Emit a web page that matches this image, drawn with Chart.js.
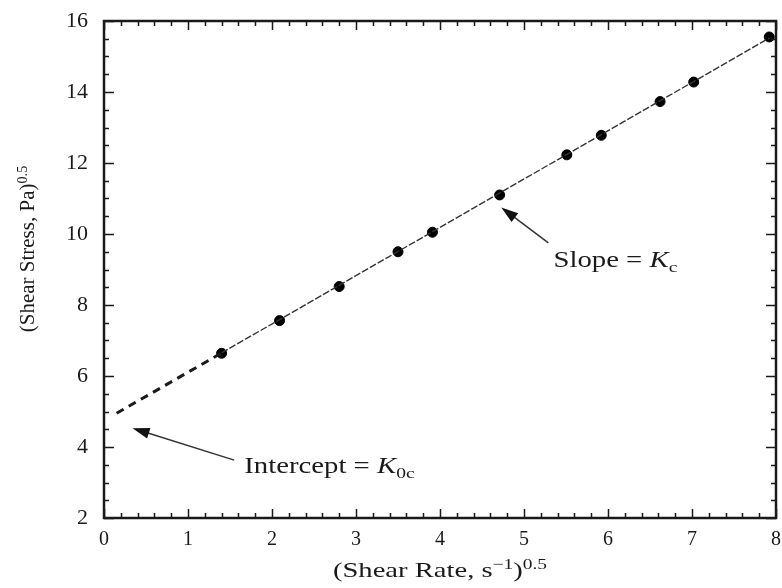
<!DOCTYPE html>
<html>
<head>
<meta charset="utf-8">
<script src="https://cdn.jsdelivr.net/npm/chart.js@4.4.1/dist/chart.umd.min.js"></script>
<style>
    html, body { margin: 0; padding: 0; background: #fff; }
    #wrap { width: 782px; height: 588px; }
</style>
</head>
<body>
<div id="wrap"><canvas id="chart"></canvas></div>
<script>
// measured points: (shear rate)^0.5 vs (shear stress)^0.5
const rateRoot = [1.40, 2.09, 2.80, 3.50, 3.91, 4.71, 5.51, 5.92, 6.62, 7.02, 7.92];
const stressRoot = [6.64, 7.56, 8.52, 9.50, 10.05, 11.10, 12.23, 12.78, 13.73, 14.28, 15.55];

// fitted line through the data, and its extrapolation back to the axis
const fitX = [1.40, 7.92];
const fitY = [6.65, 15.52];
const extraX = [0.15, 1.40];
const extraY = [4.95, 6.65];

// axis ticks
const xTicks = [0, 1, 2, 3, 4, 5, 6, 7, 8];
const yTicks = [2, 4, 6, 8, 10, 12, 14, 16];

const SERIF = '"Liberation Serif", "DejaVu Serif", serif';
const INK = '#1a1a1a';
const STRETCH = 1.25; // the source figure is a bit wide for its height

function toPoints(xs, ys) {
    return xs.map((x, i) => ({ x: x, y: ys[i] }));
}

// draw a run of text pieces (normal / italic / sub / sup), stretched horizontally by sx
function richText(ctx, runs, x, y, size, sx, align) {
    ctx.save();
    ctx.textBaseline = 'alphabetic';
    ctx.textAlign = 'left';
    let total = 0;
    runs.forEach(r => {
        const fs = r.small ? size * 0.68 : size;
        ctx.font = (r.italic ? 'italic ' : '') + fs + 'px ' + SERIF;
        r.w = ctx.measureText(r.t).width;
        r.fs = fs;
        total += r.w;
    });
    ctx.translate(x, y);
    ctx.scale(sx, 1);
    let cx = align === 'center' ? -total / 2 : 0;
    runs.forEach(r => {
        ctx.font = (r.italic ? 'italic ' : '') + r.fs + 'px ' + SERIF;
        ctx.fillText(r.t, cx, r.dy || 0);
        cx += r.w;
    });
    ctx.restore();
}

function arrow(ctx, x0, y0, x1, y1) {
    const ang = Math.atan2(y1 - y0, x1 - x0);
    const len = 17, half = 5.5;
    ctx.save();
    ctx.strokeStyle = '#333';
    ctx.fillStyle = '#111';
    ctx.lineWidth = 1.5;
    ctx.beginPath();
    ctx.moveTo(x0, y0);
    ctx.lineTo(x1 - Math.cos(ang) * len * 0.8, y1 - Math.sin(ang) * len * 0.8);
    ctx.stroke();
    ctx.beginPath();
    ctx.moveTo(x1, y1);
    ctx.lineTo(x1 - Math.cos(ang) * len - Math.sin(ang) * half, y1 - Math.sin(ang) * len + Math.cos(ang) * half);
    ctx.lineTo(x1 - Math.cos(ang) * len + Math.sin(ang) * half, y1 - Math.sin(ang) * len - Math.cos(ang) * half);
    ctx.closePath();
    ctx.fill();
    ctx.restore();
}

// frame with inward ticks on all four sides, axis titles, annotations
const framePlugin = {
    id: 'frame',
    afterDraw(chart) {
        const ctx = chart.ctx;
        const a = chart.chartArea;
        const xs = chart.scales.x, ys = chart.scales.y;

        ctx.save();
        ctx.strokeStyle = INK;
        ctx.lineWidth = 1.5;
        // x ticks: major every 1, minor every 0.2
        for (let i = 0; i <= 40; i++) {
            const v = i * 0.2;
            const px = Math.round(xs.getPixelForValue(v)) + 0.5;
            const L = (i % 5 === 0) ? 9 : 5;
            ctx.beginPath();
            ctx.moveTo(px, a.bottom); ctx.lineTo(px, a.bottom - L);
            ctx.moveTo(px, a.top); ctx.lineTo(px, a.top + L);
            ctx.stroke();
        }
        // y ticks: major every 2, minor every 0.5
        for (let i = 0; i <= 28; i++) {
            const v = 2 + i * 0.5;
            const py = Math.round(ys.getPixelForValue(v)) + 0.5;
            const L = (i % 4 === 0) ? 10 : 5;
            ctx.beginPath();
            ctx.moveTo(a.left, py); ctx.lineTo(a.left + L, py);
            ctx.moveTo(a.right, py); ctx.lineTo(a.right - L, py);
            ctx.stroke();
        }
        ctx.lineWidth = 2.5;
        ctx.strokeRect(a.left, a.top, a.right - a.left, a.bottom - a.top);
        ctx.restore();

        ctx.fillStyle = INK;
        // x axis title
        richText(ctx, [
            { t: '(Shear Rate, s' },
            { t: '\u22121', small: true, dy: -8 },
            { t: ')' },
            { t: '0.5', small: true, dy: -8 }
        ], 440, 577, 22, 1.3, 'center');

        // y axis title, rotated
        ctx.save();
        ctx.translate(34, 249);
        ctx.rotate(-Math.PI / 2);
        richText(ctx, [
            { t: '(Shear Stress, Pa)' },
            { t: '0.5', small: true, dy: -7 }
        ], 0, 0, 21, 1.0, 'center');
        ctx.restore();

        // slope annotation
        arrow(ctx, xs.getPixelForValue(5.29), ys.getPixelForValue(9.75),
            xs.getPixelForValue(4.73), ys.getPixelForValue(10.75));
        richText(ctx, [
            { t: 'Slope = ' },
            { t: 'K', italic: true },
            { t: 'c', small: true, dy: 5 }
        ], xs.getPixelForValue(5.35), ys.getPixelForValue(9.3) + 8, 23, STRETCH, 'left');

        // intercept annotation
        arrow(ctx, xs.getPixelForValue(1.55), ys.getPixelForValue(3.63),
            xs.getPixelForValue(0.34), ys.getPixelForValue(4.53));
        richText(ctx, [
            { t: 'Intercept = ' },
            { t: 'K', italic: true },
            { t: '0c', small: true, dy: 5 }
        ], xs.getPixelForValue(1.67), ys.getPixelForValue(3.48) + 8, 23, STRETCH, 'left');
    }
};

const ctx = document.getElementById('chart').getContext('2d');
const chart = new Chart(ctx, {
    type: 'scatter',
    data: {
        datasets: [
            {
                // extrapolated part of the fit
                type: 'line',
                data: toPoints(extraX, extraY),
                borderColor: INK,
                borderWidth: 3,
                borderDash: [8, 6],
                pointRadius: 0,
                fill: false
            },
            {
                type: 'line',
                data: toPoints(fitX, fitY),
                borderColor: '#333',
                borderWidth: 1.4,
                borderDash: [7, 2],
                pointRadius: 0,
                fill: false
            },
            {
                data: toPoints(rateRoot, stressRoot),
                backgroundColor: '#000',
                borderColor: '#000',
                pointRadius: 5,
                pointHoverRadius: 5
            }
        ]
    },
    options: {
        responsive: true,
        maintainAspectRatio: false,
        animation: false,
        events: [],
        layout: { padding: { left: 0, top: 21, right: 3.5, bottom: 0 } },
        plugins: {
            legend: { display: false },
            tooltip: { enabled: false }
        },
        scales: {
            x: {
                type: 'linear',
                min: 0,
                max: 8,
                afterBuildTicks: (scale) => { scale.ticks = xTicks.map(v => ({ value: v })); },
                afterFit: (scale) => {
                    scale.height = 70;
                    scale.paddingLeft = 0;
                    scale.paddingRight = 0;
                },
                grid: { display: false, drawTicks: false },
                border: { display: false },
                ticks: {
                    padding: 10,
                    color: INK,
                    font: { family: SERIF, size: 20 }
                }
            },
            y: {
                type: 'linear',
                min: 2,
                max: 16,
                afterBuildTicks: (scale) => { scale.ticks = yTicks.map(v => ({ value: v })); },
                afterFit: (scale) => {
                    scale.width = 104;
                    scale.paddingTop = 0;
                    scale.paddingBottom = 0;
                },
                grid: { display: false, drawTicks: false },
                border: { display: false },
                ticks: {
                    padding: 16,
                    color: INK,
                    font: { family: SERIF, size: 22 }
                }
            }
        }
    },
    plugins: [framePlugin]
});
</script>
</body>
</html>
